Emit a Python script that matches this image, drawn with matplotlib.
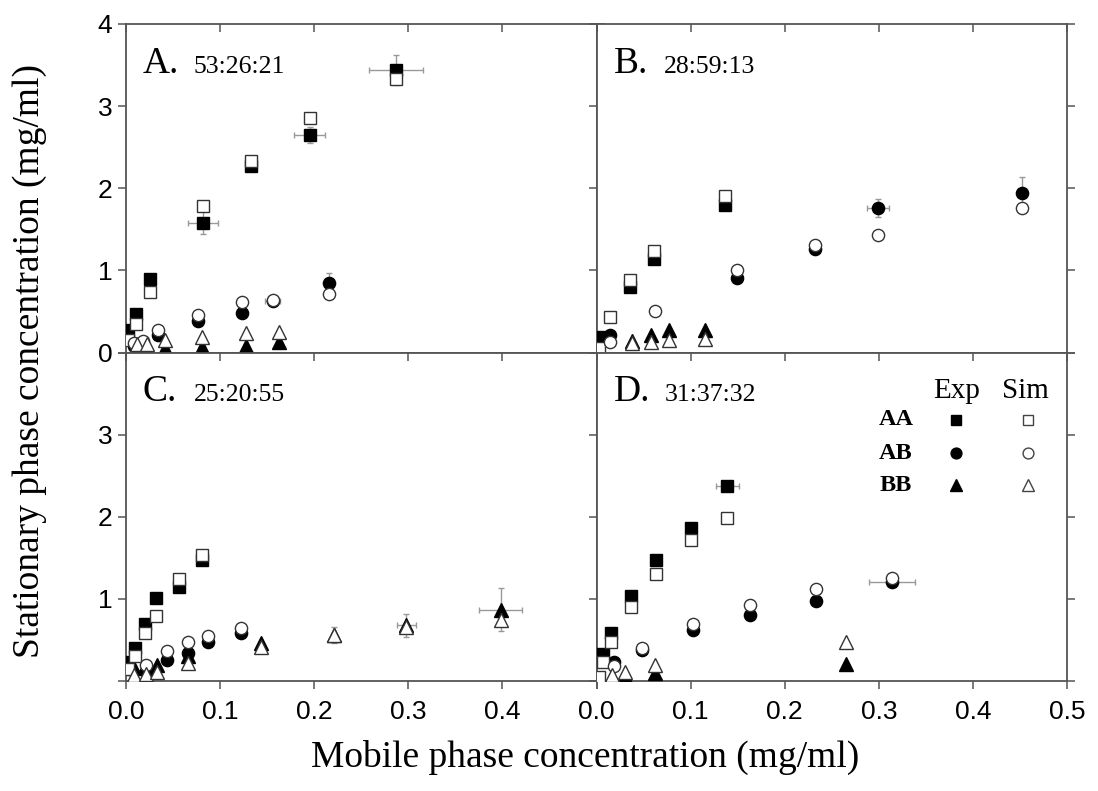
import numpy as np
import matplotlib
matplotlib.use("Agg")
import matplotlib.pyplot as plt

nan = np.nan

# ---- A. 53:26:21 ----
a_aa_x = [0.002, 0.011, 0.025, 0.082, 0.133, 0.195, 0.287]
a_aa_exp = [0.28, 0.47, 0.89, 1.58, 2.27, 2.65, 3.44]
a_aa_sim = [0.15, 0.35, 0.74, 1.78, 2.33, 2.85, 3.33]
a_aa_xerr = [0, 0, 0, 0.016, 0, 0.016, 0.029]
a_aa_yerr = [0, 0, 0, 0.14, 0, 0.10, 0.18]

a_ab_x = [0.008, 0.018, 0.034, 0.076, 0.123, 0.156, 0.216]
a_ab_exp = [0.08, 0.06, 0.21, 0.38, 0.48, 0.63, 0.85]
a_ab_sim = [0.12, 0.14, 0.28, 0.46, 0.61, 0.64, 0.71]
a_ab_xerr = [0, 0, 0, 0, 0, 0.008, 0]
a_ab_yerr = [0, 0, 0, 0, 0, 0, 0.12]

a_bb_x = [0.012, 0.022, 0.041, 0.081, 0.128, 0.163]
a_bb_exp = [0.03, 0.04, 0.05, 0.07, 0.085, 0.13]
a_bb_sim = [0.10, 0.10, 0.15, 0.19, 0.24, 0.25]

# ---- B. 28:59:13 ----
b_aa_x = [0.003, 0.014, 0.036, 0.061, 0.136]
b_aa_exp = [0.19, nan, 0.80, 1.14, 1.80]
b_aa_sim = [0.05, 0.43, 0.88, 1.24, 1.91]

b_ab_x = [0.014, 0.062, 0.149, 0.232, 0.299, 0.452]
b_ab_exp = [0.21, nan, 0.91, 1.26, 1.76, 1.94]
b_ab_sim = [0.13, 0.51, 1.00, 1.31, 1.43, 1.76]
b_ab_xerr = [0, 0, 0, 0, 0.012, 0]
b_ab_yerr = [0, 0, 0, 0, 0.11, 0.20]

b_bb_x = [0.038, 0.058, 0.077, 0.115]
b_bb_exp = [0.14, 0.21, 0.27, 0.27]
b_bb_sim = [0.12, 0.13, 0.15, 0.17]

# ---- C. 25:20:55 ----
c_aa_x = [0.002, 0.0095, 0.020, 0.0315, 0.0565, 0.081]
c_aa_exp = [0.23, 0.40, 0.69, 1.01, 1.15, 1.47]
c_aa_sim = [0.15, 0.30, 0.58, 0.79, 1.24, 1.53]
c_aa_xerr = [0, 0, 0, 0, 0.004, 0.004]

c_ab_x = [0.021, 0.043, 0.066, 0.087, 0.122]
c_ab_exp = [0.12, 0.26, 0.34, 0.47, 0.58]
c_ab_sim = [0.19, 0.36, 0.48, 0.55, 0.65]
c_ab_xerr = [0, 0, 0, 0, 0.005]

c_bb_x = [0.008, 0.021, 0.033, 0.066, 0.143, 0.221, 0.298, 0.398]
c_bb_exp = [0.16, 0.17, 0.19, 0.30, 0.46, 0.56, 0.68, 0.87]
c_bb_sim = [0.07, 0.09, 0.11, 0.22, 0.42, 0.56, 0.66, 0.74]
c_bb_xerr = [0, 0, 0, 0, 0, 0, 0.010, 0.023]
c_bb_yerr = [0, 0, 0, 0, 0, 0.10, 0.14, 0.26]

# ---- D. 31:37:32 ----
d_aa_x = [0.003, 0.0067, 0.0156, 0.037, 0.063, 0.100, 0.139]
d_aa_exp = [nan, 0.33, 0.58, 1.04, 1.47, 1.86, 2.38]
d_aa_sim = [0.05, 0.23, 0.47, 0.90, 1.30, 1.72, 1.99]
d_aa_xerr = [0, 0, 0, 0, 0, 0, 0.012]

d_ab_x = [0.019, 0.048, 0.1025, 0.163, 0.233, 0.314]
d_ab_exp = [0.23, 0.38, 0.62, 0.80, 0.97, 1.21]
d_ab_sim = [0.18, 0.40, 0.69, 0.93, 1.12, 1.26]
d_ab_xerr = [0, 0, 0, 0, 0, 0.024]

d_bb_x = [0.016, 0.030, 0.062, 0.265]
d_bb_exp = [nan, 0.06, 0.10, 0.21]
d_bb_sim = [0.07, 0.11, 0.20, 0.47]

panel_letters = ["A.", "B.", "C.", "D."]
panel_ratios = ["53:26:21", "28:59:13", "25:20:55", "31:37:32"]
species = ["AA", "AB", "BB"]
markers = {"AA": "s", "AB": "o", "BB": "^"}
msizes = {"AA": 8.5, "AB": 8.8, "BB": 10.5}

panels = [
    {"AA": (a_aa_x, a_aa_exp, a_aa_sim, a_aa_xerr, a_aa_yerr),
     "AB": (a_ab_x, a_ab_exp, a_ab_sim, a_ab_xerr, a_ab_yerr),
     "BB": (a_bb_x, a_bb_exp, a_bb_sim, None, None)},
    {"AA": (b_aa_x, b_aa_exp, b_aa_sim, None, None),
     "AB": (b_ab_x, b_ab_exp, b_ab_sim, b_ab_xerr, b_ab_yerr),
     "BB": (b_bb_x, b_bb_exp, b_bb_sim, None, None)},
    {"AA": (c_aa_x, c_aa_exp, c_aa_sim, c_aa_xerr, None),
     "AB": (c_ab_x, c_ab_exp, c_ab_sim, c_ab_xerr, None),
     "BB": (c_bb_x, c_bb_exp, c_bb_sim, c_bb_xerr, c_bb_yerr)},
    {"AA": (d_aa_x, d_aa_exp, d_aa_sim, d_aa_xerr, None),
     "AB": (d_ab_x, d_ab_exp, d_ab_sim, d_ab_xerr, None),
     "BB": (d_bb_x, d_bb_exp, d_bb_sim, None, None)},
]

serif = "Liberation Serif"
sans = "Liberation Sans"
spine_col = "#555555"
err_col = "#999999"

fig, axes = plt.subplots(2, 2, figsize=(10.98, 7.91), dpi=100,
                         gridspec_kw=dict(hspace=0, wspace=0))
fig.subplots_adjust(left=0.1148, right=0.9718, top=0.9697, bottom=0.139)

for k, ax in enumerate(axes.flat):
    data = panels[k]
    for sp in species:
        x, exp, sim, xerr, yerr = data[sp]
        x = np.array(x)
        exp = np.array(exp, dtype=float)
        sim = np.array(sim, dtype=float)
        if xerr is not None or yerr is not None:
            xe = np.zeros_like(x) if xerr is None else np.array(xerr)
            ye = np.zeros_like(x) if yerr is None else np.array(yerr)
            keep = (xe > 0) | (ye > 0)
            ax.errorbar(x[keep], exp[keep], xerr=xe[keep], yerr=ye[keep],
                        fmt="none", ecolor=err_col, elinewidth=1.0,
                        capsize=2.5, capthick=1.0, zorder=2)
        ax.plot(x, exp, linestyle="none", marker=markers[sp], ms=msizes[sp],
                mfc="black", mec="black", mew=1.0, zorder=3)
        ax.plot(x, sim, linestyle="none", marker=markers[sp], ms=msizes[sp],
                mfc="white", mec="#333333", mew=1.0, zorder=4)

    ax.set_xlim(0, 0.5)
    ax.set_ylim(0, 4)
    ax.set_xticks([0, 0.1, 0.2, 0.3, 0.4, 0.5])
    ax.set_yticks([0, 1, 2, 3, 4])
    for s in ax.spines.values():
        s.set_color(spine_col)
        s.set_linewidth(1.3)
    ax.tick_params(which="both", top=True, right=True, length=6, width=1.1,
                   color=spine_col, labelsize=19, pad=4)
    ax.tick_params(axis="x", which="both", direction="out", pad=8)
    ax.tick_params(axis="y", which="both", direction="out")
    for t in ax.xaxis.get_major_ticks():
        t.tick2line.set_marker(3)  # inward on top
    for t in ax.yaxis.get_major_ticks():
        t.tick2line.set_marker(1)  # inward on right
    for lab in ax.get_xticklabels() + ax.get_yticklabels():
        lab.set_fontfamily(sans)

    ax.text(0.036, 0.852, panel_letters[k], transform=ax.transAxes,
            fontfamily=serif, fontsize=27, va="baseline", ha="left")
    ax.text(0.144, 0.852, panel_ratios[k], transform=ax.transAxes,
            fontfamily=serif, fontsize=18.5, va="baseline", ha="left")

ax_a, ax_b, ax_c, ax_d = axes.flat
ax_a.tick_params(labelbottom=False)
ax_b.tick_params(labelbottom=False, labelleft=False)
ax_d.tick_params(labelleft=False)
ax_a.set_yticklabels(["0", "1", "2", "3", "4"])
ax_c.set_yticklabels(["", "1", "2", "3", ""])
ax_c.set_xticklabels(["0.0", "0.1", "0.2", "0.3", "0.4", ""])
ax_d.set_xticklabels(["0.0", "0.1", "0.2", "0.3", "0.4", "0.5"])
for ax in (ax_a, ax_c, ax_d):
    for lab in ax.get_xticklabels() + ax.get_yticklabels():
        lab.set_fontfamily(sans)
        lab.set_fontsize(19)

# key for the symbols, drawn inside panel D
ax_d.text(0.765, 0.863, "Exp", transform=ax_d.transAxes, fontfamily=serif,
          fontsize=21, ha="center", va="baseline")
ax_d.text(0.911, 0.863, "Sim", transform=ax_d.transAxes, fontfamily=serif,
          fontsize=21, ha="center", va="baseline")
key_sizes = {"AA": 7.5, "AB": 7.8, "BB": 9.0}
for sp, yy in zip(species, [0.796, 0.694, 0.596]):
    ax_d.text(0.636, yy, sp, transform=ax_d.transAxes, fontfamily=serif,
              fontweight="bold", fontsize=17.5, ha="center", va="center")
    ax_d.plot([0.765], [yy], transform=ax_d.transAxes, linestyle="none",
              marker=markers[sp], ms=key_sizes[sp], mfc="black", mec="black",
              clip_on=False)
    ax_d.plot([0.916], [yy], transform=ax_d.transAxes, linestyle="none",
              marker=markers[sp], ms=key_sizes[sp], mfc="white", mec="#444444",
              clip_on=False)

fig.text(0.533, 0.043, "Mobile phase concentration (mg/ml)", fontfamily=serif,
         fontsize=27, ha="center", va="center")
fig.text(0.027, 0.544, "Stationary phase concentration (mg/ml)", fontfamily=serif,
         fontsize=27, ha="center", va="center", rotation=90)

fig.savefig("out.png", dpi=100)
